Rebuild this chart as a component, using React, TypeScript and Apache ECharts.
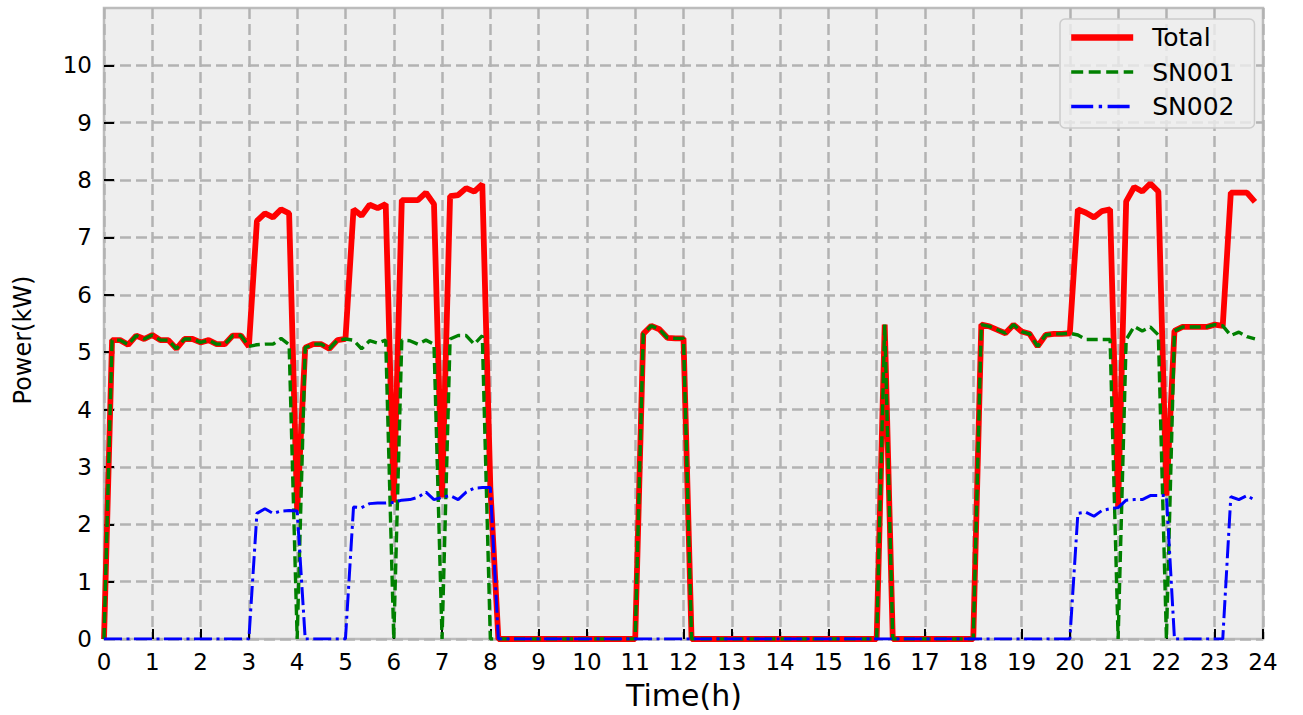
import React, { useEffect, useRef } from "react";
import * as echarts from "echarts";

// Sampling step of the logged data, in minutes
const STEP_MIN = 10;

const xTicks = [0, 1, 2, 3, 4, 5, 6, 7, 8, 9, 10, 11, 12, 13, 14, 15, 16, 17, 18, 19, 20, 21, 22, 23, 24];
const yTicks = [0, 1, 2, 3, 4, 5, 6, 7, 8, 9, 10];

const seriesNames = ["Total", "SN001", "SN002"];

const total = [
  0,
  5.21, 5.21, 5.13, 5.29, 5.23, 5.3, 5.21, 5.21, 5.06, 5.23, 5.23, 5.17, 5.21, 5.14, 5.14, 5.29, 5.29, 5.1,
  7.29, 7.42, 7.35, 7.49, 7.42,
  2.23,
  5.08, 5.14, 5.14, 5.06, 5.21, 5.23,
  7.49, 7.38, 7.57, 7.51, 7.58,
  2.38,
  7.65, 7.65, 7.65, 7.78, 7.58,
  2.47,
  7.72, 7.74, 7.86, 7.8, 7.93,
  2.64,
  0, 0, 0, 0, 0, 0, 0, 0, 0, 0, 0, 0, 0, 0, 0, 0, 0, 0,
  5.32, 5.46, 5.4, 5.25, 5.24, 5.24,
  0, 0, 0, 0, 0, 0, 0, 0, 0, 0, 0, 0, 0, 0, 0, 0, 0, 0, 0, 0, 0, 0, 0, 0,
  5.48,
  0, 0, 0, 0, 0, 0, 0, 0, 0, 0, 0,
  5.48, 5.45, 5.39, 5.33, 5.48, 5.36, 5.32, 5.1, 5.3, 5.32, 5.32, 5.33,
  7.49, 7.43, 7.35, 7.46, 7.49,
  2.3,
  7.63, 7.88, 7.8, 7.94, 7.8,
  2.5,
  5.37, 5.44, 5.44, 5.44, 5.44, 5.48, 5.46,
  7.78, 7.78, 7.78, 7.62,
];

const sn001 = [
  0,
  5.21, 5.21, 5.13, 5.29, 5.23, 5.3, 5.21, 5.21, 5.06, 5.23, 5.23, 5.17, 5.21, 5.14, 5.14, 5.29, 5.29, 5.1,
  5.13, 5.14, 5.14, 5.24, 5.13,
  0,
  5.08, 5.14, 5.14, 5.06, 5.21, 5.23,
  5.21, 5.06, 5.2, 5.16, 5.21,
  0,
  5.21, 5.2, 5.14, 5.21, 5.14,
  0,
  5.23, 5.29, 5.29, 5.14, 5.29,
  0,
  0, 0, 0, 0, 0, 0, 0, 0, 0, 0, 0, 0, 0, 0, 0, 0, 0, 0,
  5.32, 5.46, 5.4, 5.25, 5.24, 5.24,
  0, 0, 0, 0, 0, 0, 0, 0, 0, 0, 0, 0, 0, 0, 0, 0, 0, 0, 0, 0, 0, 0, 0, 0,
  5.48,
  0, 0, 0, 0, 0, 0, 0, 0, 0, 0, 0,
  5.48, 5.45, 5.39, 5.33, 5.48, 5.36, 5.32, 5.1, 5.3, 5.32, 5.32, 5.33,
  5.3, 5.22, 5.22, 5.22, 5.22,
  0,
  5.22, 5.45, 5.37, 5.44, 5.3,
  0,
  5.37, 5.44, 5.44, 5.44, 5.44, 5.48, 5.46,
  5.29, 5.35, 5.27, 5.23,
];

const sn002 = [
  0, 0, 0, 0, 0, 0, 0, 0, 0, 0, 0, 0, 0, 0, 0, 0, 0, 0, 0,
  2.19, 2.27, 2.19, 2.23, 2.24, 2.23,
  0, 0, 0, 0, 0, 0,
  2.3, 2.29, 2.36, 2.37, 2.37, 2.38, 2.42, 2.43, 2.47, 2.56, 2.43, 2.47, 2.5, 2.43, 2.56, 2.63, 2.64, 2.64,
  0, 0, 0, 0, 0, 0, 0, 0, 0, 0, 0, 0, 0, 0, 0, 0, 0, 0, 0, 0, 0, 0, 0, 0,
  0, 0, 0, 0, 0, 0, 0, 0, 0, 0, 0, 0, 0, 0, 0, 0, 0, 0, 0, 0, 0, 0, 0, 0,
  0, 0, 0, 0, 0, 0, 0, 0, 0, 0, 0, 0, 0, 0, 0, 0, 0, 0, 0, 0, 0, 0, 0, 0,
  2.19, 2.21, 2.14, 2.24, 2.27, 2.29, 2.42, 2.43, 2.43, 2.5, 2.5, 2.5,
  0, 0, 0, 0, 0, 0, 0,
  2.48, 2.43, 2.5, 2.42,
];

const FONT = "DejaVu Sans";

export default function App() {
  const ref = useRef<HTMLDivElement>(null);

  useEffect(() => {
    if (!ref.current) return;
    const chart = echarts.init(ref.current, null, { renderer: "svg" });
    const pairs = (arr: number[]) => arr.map((v, i) => [(i * STEP_MIN) / 60, v]);

    const styles = [
      { color: "#ff0000", width: 5.8, type: "solid" as any },
      { color: "#008000", width: 3.4, type: [11, 5] as any },
      { color: "#0000ff", width: 3, type: [18, 4.5, 3, 4.5] as any },
    ];
    const legendStyles = [
      { color: "#ff0000", width: 6.4, type: "solid" as any },
      { color: "#008000", width: 3.4, type: [12, 5.5] as any },
      { color: "#0000ff", width: 3.4, type: [22, 5.5, 3.4, 5.5] as any },
    ];

    chart.setOption({
      animation: false,
      backgroundColor: "#ffffff",
      textStyle: { fontFamily: FONT },
      grid: {
        left: 104,
        top: 8,
        right: 40,
        bottom: 76,
        show: true,
        backgroundColor: "#eeeeee",
        borderColor: "#bcbcbc",
        borderWidth: 2.5,
        containLabel: false,
      },
      xAxis: {
        type: "value",
        min: 0,
        max: 24,
        interval: 1,
        axisLine: { show: false },
        axisTick: {
          show: true,
          inside: true,
          length: 10,
          customValues: xTicks,
          lineStyle: { color: "#000000", width: 2 },
        },
        axisLabel: {
          customValues: xTicks,
          color: "#000000",
          fontSize: 23,
          fontFamily: FONT,
          margin: 11,
        },
        splitLine: {
          show: true,
          lineStyle: { color: "#b2b2b2", width: 2.5, type: [11, 5] },
        },
      },
      yAxis: {
        type: "value",
        min: 0,
        max: 11,
        interval: 1,
        axisLine: { show: false },
        axisTick: {
          show: true,
          inside: true,
          length: 10,
          customValues: yTicks,
          lineStyle: { color: "#000000", width: 2 },
        },
        axisLabel: {
          customValues: yTicks,
          color: "#000000",
          fontSize: 23,
          fontFamily: FONT,
          margin: 12,
        },
        splitLine: {
          show: true,
          lineStyle: { color: "#b2b2b2", width: 2.5, type: [11, 5] },
        },
      },
      legend: {
        orient: "vertical",
        left: 1060,
        top: 19,
        padding: [6, 20, 9, 8],
        itemGap: 9.5,
        itemWidth: 62,
        itemHeight: 14,
        backgroundColor: "rgba(238,238,238,0.8)",
        borderColor: "#cccccc",
        borderWidth: 1.5,
        borderRadius: 5,
        data: seriesNames.map((name, k) => ({
          name,
          itemStyle: { opacity: 0 },
          lineStyle: legendStyles[k],
        })),
        itemStyle: { opacity: 0 },
        textStyle: {
          fontFamily: FONT,
          fontSize: 25,
          lineHeight: 25,
          color: "#000000",
          padding: [0, 0, 0, 14],
        },
      },
      graphic: [
        {
          type: "text",
          x: 684,
          y: 695,
          style: {
            text: "Time(h)",
            fontFamily: FONT,
            fontSize: 30,
            fill: "#000000",
            align: "center",
            verticalAlign: "middle",
          },
        },
        {
          type: "text",
          x: 23,
          y: 340,
          rotation: Math.PI / 2,
          style: {
            text: "Power(kW)",
            fontFamily: FONT,
            fontSize: 24,
            fill: "#000000",
            align: "center",
            verticalAlign: "middle",
          },
        },
      ],
      series: [
        {
          name: seriesNames[0],
          type: "line",
          data: pairs(total),
          symbol: "none",
          lineStyle: styles[0],
          itemStyle: { color: styles[0].color },
        },
        {
          name: seriesNames[1],
          type: "line",
          data: pairs(sn001),
          symbol: "none",
          lineStyle: styles[1],
          itemStyle: { color: styles[1].color },
        },
        {
          name: seriesNames[2],
          type: "line",
          data: pairs(sn002),
          symbol: "none",
          lineStyle: styles[2],
          itemStyle: { color: styles[2].color },
        },
      ],
    });

    return () => chart.dispose();
  }, []);

  return (
    <div
      ref={ref}
      style={{ position: "absolute", left: 0, top: 0, width: 1303, height: 715 }}
    />
  );
}
